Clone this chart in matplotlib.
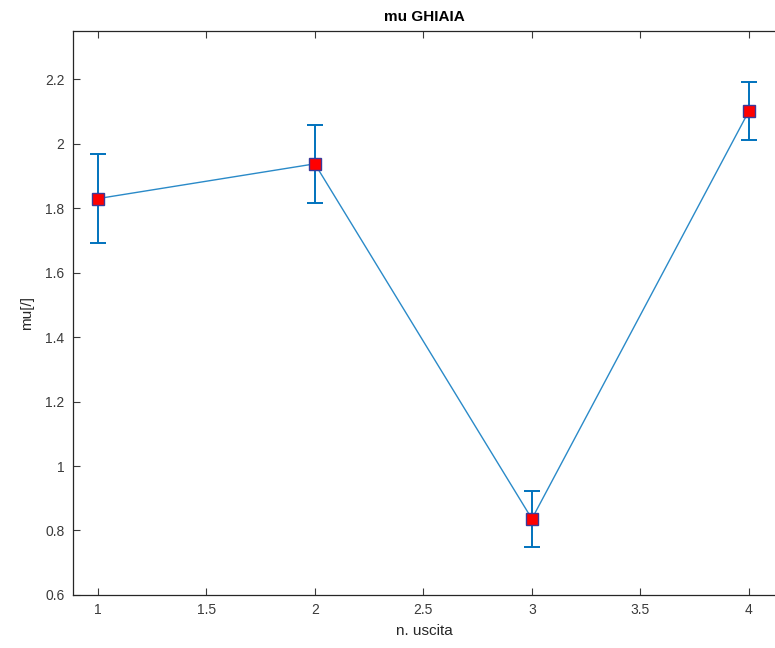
import matplotlib.pyplot as plt

plt.rcParams["font.family"] = ["Liberation Sans", "DejaVu Sans"]

uscita = [1, 2, 3, 4]
mu = [1.83, 1.938, 0.836, 2.102]
mu_err = [0.138, 0.122, 0.087, 0.09]

fig = plt.figure(figsize=(7.75, 6.48), dpi=100)
ax = fig.add_axes([0.094, 0.082, 0.906, 0.870])

ax.errorbar(uscita, mu, yerr=mu_err, fmt="none", ecolor="#0072BD",
            elinewidth=1.4, capsize=6, capthick=1.4, zorder=2)
ax.plot(uscita, mu, "-", color="#2a8ac8", lw=1.0, zorder=3)
ax.plot(uscita, mu, "s", ms=9, mfc="red", mec="#3a3a9a", mew=1.0,
        ls="none", zorder=4)

ax.set_xlim(0.885, 4.12)
ax.set_ylim(0.6, 2.35)
ax.set_xticks([1, 1.5, 2, 2.5, 3, 3.5, 4])
ax.set_xticklabels(["1", "1.5", "2", "2.5", "3", "3.5", "4"])
ax.set_yticks([0.6, 0.8, 1, 1.2, 1.4, 1.6, 1.8, 2, 2.2])
ax.set_yticklabels(["0.6", "0.8", "1", "1.2", "1.4", "1.6", "1.8", "2", "2.2"])
ax.tick_params(direction="in", top=True, right=False, length=5, width=0.8,
               labelsize=10, colors="#3a3a3a", pad=6)
for s in ax.spines.values():
    s.set_color("#262626")
    s.set_linewidth(0.9)
# the reference is cropped: the right edge of the box is off the picture
ax.spines["right"].set_visible(False)

ax.set_title("mu GHIAIA", fontsize=11, fontweight="bold", pad=7)
ax.set_xlabel("n. uscita", fontsize=11, color="#262626", labelpad=5)
ax.set_ylabel("mu[/]", fontsize=11, color="#262626", labelpad=8)

fig.savefig("out.png", dpi=100)
